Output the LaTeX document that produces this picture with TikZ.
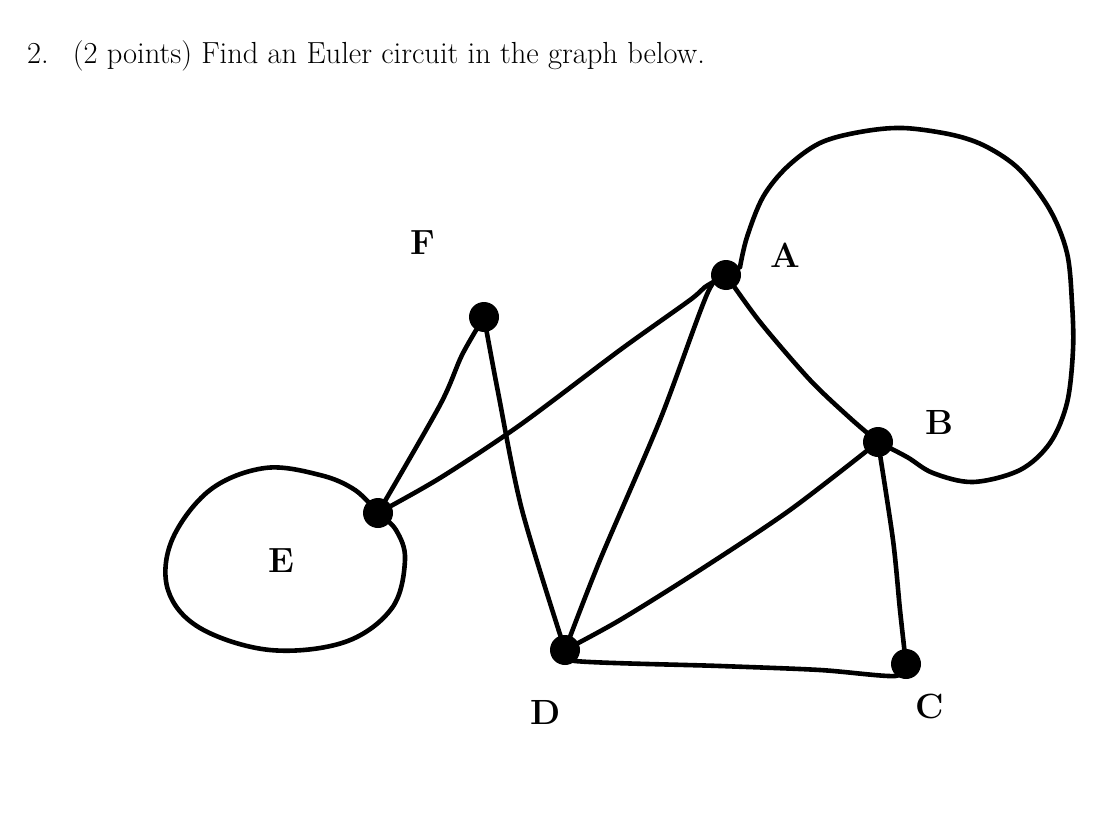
\documentclass[tikz,border=0pt]{standalone}
\usepackage{tikz}
\usetikzlibrary{calc}

\tikzset{
  vertex/.style={circle, fill=black, inner sep=0pt, minimum size=30pt},
  edge/.style={line width=4.6pt, line cap=round, line join=round},
  vlabel/.style={font=\bfseries\fontsize{35}{35}\selectfont}
}

\begin{document}
\begin{tikzpicture}[x=1pt, y=-1pt]
\useasboundingbox (0,0) rectangle (1114,824);
% question text
\node[anchor=base west, inner sep=0pt, font=\fontsize{30.5}{36}\selectfont] (title) at (27,64)
  {2.\hspace{24pt}(2 points) Find an Euler circuit in the graph below.};
% vertices
\node[vertex] (A) at (726,275) {};
\node[vertex] (B) at (878,442) {};
\node[vertex] (C) at (906,664) {};
\node[vertex] (D) at (565,650) {};
\node[vertex] (E) at (378,513) {};
\node[vertex] (F) at (484,317) {};
% vertex labels
\node[vlabel] (lblA) at (785,255) {A};
\node[vlabel] (lblB) at (939,422) {B};
\node[vlabel] (lblC) at (930,706) {C};
\node[vlabel] (lblD) at (546,712) {D};
\node[vlabel] (lblE) at (281,561) {E};
\node[vlabel] (lblF) at (423,243) {F};
% big arc A -- B
\draw[edge] plot[smooth, tension=0.55] coordinates {(740,267) (747,237) (763,197) (787,167) (820,143)
  (860,132) (903,128) (953,135) (987,147) (1020,170) (1050,210) (1067,253) (1072,303) (1073,350)
  (1067,403) (1050,443) (1020,470) (973,482) (933,473) (907,457) (B)};
\draw[edge] (A) -- (740,267);
% loop at E
\draw[edge] plot[smooth, tension=0.6] coordinates {(E) (355,490) (320,475) (265,468) (210,490)
  (172,540) (168,590) (200,628) (270,650) (345,642) (392,608) (405,560) (396,530) (E)};
% straight-ish edges
\draw[edge] plot[smooth] coordinates {(E) (440,478) (520,425) (620,350) (690,300) (705,287) (A)};
\draw[edge] plot[smooth] coordinates {(F) (462,355) (440,405) (E)};
\draw[edge] plot[smooth] coordinates {(F) (498,392) (522,510) (D)};
\draw[edge] plot[smooth] coordinates {(D) (600,560) (660,420) (708,292) (A)};
\draw[edge] plot[smooth] coordinates {(D) (620,620) (700,570) (790,510) (B)};
\draw[edge] plot[smooth] coordinates {(A) (760,322) (810,380) (850,418) (B)};
\draw[edge] plot[smooth] coordinates {(B) (893,540) (900,610) (C)};
\draw[edge] plot[smooth] coordinates {(D) (575,661) (720,666) (820,670) (895,676) (C)};
\end{tikzpicture}
\end{document}
